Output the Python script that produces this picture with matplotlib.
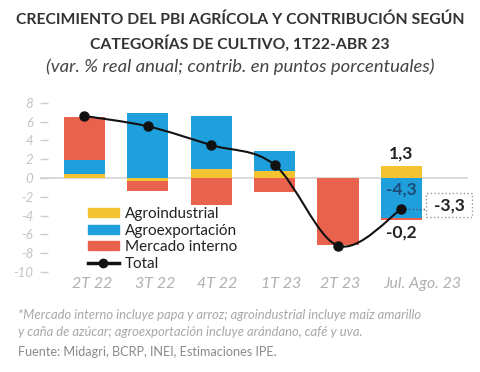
import matplotlib
matplotlib.use('Agg')
import matplotlib.pyplot as plt
import matplotlib.patches as mpatches
import matplotlib.transforms as mtransforms
from matplotlib.lines import Line2D
from matplotlib.path import Path

# data (contribution in p.p.)
categories = ['2T 22', '3T 22', '4T 22', '1T 23', '2T 23', 'Jul. Ago. 23']
agroindustrial = [0.4, -0.3, 1.0, 0.7, 0.0, 1.3]
agroexportacion = [1.5, 6.9, 5.6, 2.2, 0.0, -4.3]
mercado_interno = [4.6, -1.1, -2.9, -1.5, -7.1, -0.2]
total = [6.6, 5.5, 3.5, 1.4, -7.2, -3.3]
yticks = list(range(-10, 9, 2))

YELLOW = '#f3c332'
BLUE = '#1f9fdb'
RED = '#e8624d'

plt.rcParams['font.family'] = ['Lato', 'DejaVu Sans']

fig = plt.figure(figsize=(4.8, 3.72), dpi=100)
fig.patch.set_facecolor('white')
ax = fig.add_axes([40 / 480, 0.2637, 428 / 480, 0.4852])

x = list(range(len(categories)))
series = [(agroindustrial, YELLOW, 'Agroindustrial'),
          (agroexportacion, BLUE, 'Agroexportación'),
          (mercado_interno, RED, 'Mercado interno')]

# stack positives up and negatives down separately
pos = [0.0] * len(x)
neg = [0.0] * len(x)
for vals, col, lab in series:
    bottoms = []
    for i, v in enumerate(vals):
        if v >= 0:
            bottoms.append(pos[i])
            pos[i] += v
        else:
            bottoms.append(neg[i])
            neg[i] += v
    ax.bar(x, vals, bottom=bottoms, width=0.65, color=col, zorder=2)

ax.axhline(0, color='#d4d4d4', lw=1.2, zorder=1)


def smooth_path(xs, ys, k=1 / 6):
    # catmull-rom through the points, as cubic bezier segments
    verts = [(xs[0], ys[0])]
    codes = [Path.MOVETO]
    n = len(xs)
    for i in range(n - 1):
        i0, i3 = max(i - 1, 0), min(i + 2, n - 1)
        c1 = (xs[i] + (xs[i + 1] - xs[i0]) * k, ys[i] + (ys[i + 1] - ys[i0]) * k)
        c2 = (xs[i + 1] - (xs[i3] - xs[i]) * k, ys[i + 1] - (ys[i3] - ys[i]) * k)
        verts += [c1, c2, (xs[i + 1], ys[i + 1])]
        codes += [Path.CURVE4] * 3
    return Path(verts, codes)


ax.add_patch(mpatches.PathPatch(smooth_path(x, total), fill=False,
                                edgecolor='#111111', lw=1.5, zorder=3))
ax.plot(x, total, 'o', color='#111111', ms=6.5, zorder=4)

# labels on the last bar
ax.text(5, 2.65, '1,3', ha='center', va='center', fontsize=12.5,
        fontweight='bold', color='#222222')
ax.text(5, -1.2, '-4,3', ha='center', va='center', fontsize=12.5,
        fontweight='bold', color='#1d4a77', zorder=5)
ax.text(5, -5.85, '-0,2', ha='center', va='center', fontsize=12.5,
        fontweight='bold', color='#222222')
ax.plot([5, 5.39], [total[5], total[5]], ls=':', color='#3a5a80', lw=1, zorder=3)
box = mpatches.Rectangle((5.39, -4.15), 0.72, 2.55, fill=False,
                         edgecolor='#999999', ls=':', lw=1, clip_on=False)
ax.add_patch(box)
ax.text(5.76, -2.95, '-3,3', ha='center', va='center', fontsize=12.5,
        fontweight='bold', color='#222222')

ax.set_xlim(-0.7, 6.05)
ax.set_ylim(-10.2, 9.0)
ax.set_xticks(x)
ax.set_xticklabels(categories, fontstyle='italic', fontsize=11.5, color='#b0b0b0')
ax.set_yticks(yticks)
ax.set_yticklabels([str(t) for t in yticks], fontstyle='italic', fontsize=9.5,
                   color='#c4c4c4')
ax.tick_params(axis='x', length=0, pad=2)
ax.tick_params(axis='y', direction='in', length=6, width=1, color='#cccccc', pad=5)
for s in ax.spines.values():
    s.set_visible(False)

# the labels sit a little right of the bars in the original
label_shift = [8, 7, 6, 7, 2, 21]
for lbl, dx in zip(ax.get_xticklabels(), label_shift):
    lbl.set_transform(lbl.get_transform() +
                      mtransforms.ScaledTranslation(dx / 100, 0, fig.dpi_scale_trans))

handles = [mpatches.Patch(color=YELLOW), mpatches.Patch(color=BLUE),
           mpatches.Patch(color=RED),
           Line2D([], [], color='#111111', lw=2.5, marker='o', ms=6)]
labels = ['Agroindustrial', 'Agroexportación', 'Mercado interno', 'Total']
leg = fig.legend(handles, labels, loc='upper left',
                 bbox_to_anchor=(88 / 480, 1 - 207 / 372),
                 bbox_transform=fig.transFigure, frameon=False, fontsize=11,
                 handlelength=2.0, handleheight=0.5, handletextpad=0.4,
                 labelspacing=0.17, borderpad=0, borderaxespad=0)
for t in leg.get_texts():
    t.set_color('#222222')

# titles
fig.text(0.5, 1 - 20 / 372, 'CRECIMIENTO DEL PBI AGRÍCOLA Y CONTRIBUCIÓN SEGÚN',
         ha='center', va='center', fontsize=11.3, fontweight='bold', color='#333333')
fig.text(0.5, 1 - 43 / 372, 'CATEGORÍAS DE CULTIVO, 1T22-ABR 23',
         ha='center', va='center', fontsize=11.3, fontweight='bold', color='#333333')
fig.text(0.5, 1 - 67 / 372, '(var. % real anual; contrib. en puntos porcentuales)',
         ha='center', va='center', fontsize=13.3, fontstyle='italic', color='#444444')

# notes
fig.text(18 / 480, 1 - 315 / 372,
         '*Mercado interno incluye papa y arroz; agroindustrial incluye maíz amarillo',
         ha='left', va='center', fontsize=9.4, fontstyle='italic', color='#a8a8a8')
fig.text(18 / 480, 1 - 332 / 372,
         'y caña de azúcar; agroexportación incluye arándano, café y uva.',
         ha='left', va='center', fontsize=9.4, fontstyle='italic', color='#a8a8a8')
fig.text(18 / 480, 1 - 352 / 372, 'Fuente: Midagri, BCRP, INEI, Estimaciones IPE.',
         ha='left', va='center', fontsize=9.1, color='#8a8a8a')

fig.savefig('out.png', dpi=100)
